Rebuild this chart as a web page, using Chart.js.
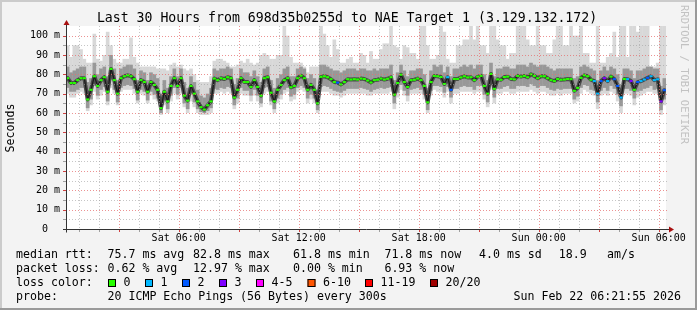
<!DOCTYPE html>
<html>
<head>
<meta charset="utf-8">
<script src="https://cdn.jsdelivr.net/npm/chart.js@4.4.1/dist/chart.umd.min.js"></script>
<style>
html,body{margin:0;padding:0;background:#f3f3f3}
canvas{display:block}
</style>
</head>
<body>
<canvas id="c" width="697" height="310"></canvas>
<script>
// time axis in minutes since Sat 00:00
var startMin = 21.9, endMin = 1821.9;
var firstSample = 26.9, sampleStep = 10;

// median rtt per 10 min sample (ms)
var median = [
  78,75.5,75.5,77,78,78,67,72,79,74,77,78.5,71,82.8,77,70,78,79,79.5,79,77.5,71,77,76,71,76,74.5,72,62.5,71,66,
  74,78,74,78,69,66.4,74,70,66,63,61.8,64,66,77.8,77,78,77.6,78.5,78,68,72,78,76,76,73.5,77,73.5,69,78,78.5,
  70.5,66,72,74.5,77,78,73.3,74,78,79.3,78,72,74.5,72,65,78.7,79,78.5,77.5,76,75.7,74.8,76,77.5,77.3,77.5,77.3,77.8,77.6,76.8,
  75.8,77,77.2,77.8,77.3,77.7,78.5,69.5,75.5,79.8,76,73.5,77,77.2,77.8,77,74,65.5,76,79.2,79,78.6,75,78.5,72,77.6,77.6,78.4,79,78.4,
  78.5,77,78.8,79.2,74,70,80.2,72.5,77.4,77.2,78.6,78.8,77.6,77.4,79.2,78.8,79.2,78.5,80,79.2,78,79,79,78,77,76.5,77.6,77.2,77.3,77.6,
  77.5,71.5,73,78.2,79.5,79,77.2,76.5,70,76.5,78,76.5,78.8,77.5,74,68,77.6,77.5,76.5,72,76,76.5,77.3,78.2,79,77,77.4,66,71.8
];
// lost pings out of 20
var loss = [
  0,0,0,0,0,0,0,0,0,0,0,0,0,0,0,0,0,0,0,0,0,0,0,0,0,0,0,0,0,0,
  0,0,0,0,0,0,0,0,0,0,0,0,0,0,0,0,0,0,0,0,0,0,0,0,0,0,0,0,0,0,
  0,0,0,0,0,0,0,0,0,0,0,0,0,0,0,0,0,0,0,0,0,2,0,0,0,0,0,0,0,0,
  0,0,0,0,0,0,0,0,0,0,0,0,0,0,0,0,0,0,0,0,0,0,0,0,1,2,0,0,0,0,
  0,0,0,0,0,0,0,0,0,0,0,0,0,0,0,0,0,0,0,0,0,0,0,0,0,0,0,0,0,0,
  0,0,0,0,0,0,0,0,1,1,2,3,1,0,2,2,1,0,1,3,0,2,1,1,2,1,1,1,3,2
];
// smoke: slowest and fastest ping
var pingMax = [
  95,89,95,95,93,88,86,86,101,88,87,90,102,95,88,86,86,88,88,99,89,86,84,84,84,84,84,83,83,83,82,
  85,86,84,85,83,82,83,80,77,76,76,76,79,87,88,88,87,86,84,84,85,87,86,88,86,85,86,90,91,90,
  88,88,90,90,106,100,89,86,86,86,84,81,84,84,84,106,101,95,89,98,93,86,86,88,89,86,86,91,90,86,
  92,88,88,93,96,96,106,95,94,88,95,94,91,91,88,106,106,95,88,88,90,106,102,88,86,86,95,95,98,98,
  106,98,106,95,95,91,106,106,98,95,95,88,91,91,106,106,106,98,95,95,106,95,95,91,91,98,106,106,95,95,
  106,100,100,106,91,91,86,86,106,86,86,89,91,102,89,106,106,89,106,106,102,106,106,106,84,84,86,106,106
];
var pingMin = [
  70,68,68,70,71,70,61,64,71,67,69,71,64,73,70,64,71,72,72,72,70,65,70,69,65,69,67,66,59,64,60,
  66,70,67,70,63,60,66,63,60,59,59,59,60,70,70,71,70,71,70,62,65,70,69,69,66,69,66,63,70,71,
  64,60,65,67,70,71,66,67,71,72,71,65,67,65,60,71,71,71,70,69,69,68,69,70,70,70,70,70,70,69,
  69,70,70,70,70,70,71,62,68,72,69,66,70,70,70,70,67,60,69,72,71,71,68,71,65,70,70,71,71,71,
  71,70,71,71,67,63,72,65,70,70,71,71,70,70,71,71,71,71,72,71,70,71,71,70,69,69,70,69,70,70,
  70,65,66,70,72,71,70,69,62,69,70,69,71,70,66,60,70,70,69,64,68,69,70,71,71,70,70,59,64
];
// smoke: inner pings
var midHi = [
  84,81,82,83,84,84,76,78,86,80,83,84,79,90,83,77,83,84,85,85,83,77,82,81,77,81,80,78,70,77,73,
  79,83,79,83,76,73,79,76,72,69,68,70,73,83,82,83,83,84,83,75,78,83,81,81,79,82,79,76,83,84,
  77,73,78,80,83,84,79,79,83,84,83,78,80,78,72,85,85,84,83,82,82,81,82,83,83,83,82,83,83,82,
  82,83,82,83,83,83,85,77,81,85,82,79,82,82,83,83,80,73,82,85,84,85,81,84,79,83,83,84,85,84,
  85,83,85,85,80,77,86,79,83,83,84,84,83,83,85,85,85,84,86,85,84,85,85,84,83,82,83,83,83,83,
  83,78,79,84,85,84,83,82,77,82,84,82,84,83,80,75,83,83,82,78,82,82,83,84,84,83,83,74,78
];
var midLo = [
  73,71,71,72,73,73,62.5,67,74,69,72,73.5,66,77,72,65.5,73,74,74.5,74,72.5,66.5,72,71,66.5,71,69.5,67.5,60,66.5,62,
  69,73,69.5,73,65,62,69.5,65.5,62,60.5,60,61,62.5,72.5,72,73,72.5,73.5,73,64,67.5,73,71.5,71.5,69,72,69,65,73,73.5,
  66,62,67.5,69.5,72,73,68.5,69.5,73,74,73,67.5,69.5,67.5,61.5,73.5,74,73.5,72.5,71.5,71,70.5,71.5,72.5,72.5,72.5,72.5,73,72.5,72,
  71,72,72.5,73,72.5,73,73.5,65,70.5,74.5,71.5,69,72,72.5,73,72,69.5,61.5,71.5,74,74,73.5,70.5,73.5,68,72.5,72.5,73.5,74,73.5,
  73.5,72,74,74,69.5,65.5,75,68,72.5,72.5,73.5,74,72.5,72.5,74,74,74,73.5,75,74,73,74,74,73,72,71.5,72.5,72,72.5,72.5,
  72.5,67,68.5,73,74.5,74,72,71.5,65.5,71.5,73,71.5,74,72.5,69.5,63.5,72.5,72.5,71.5,67.5,71,71.5,72.5,73,74,72,72.5,61.5,67
];

var yTicks = [0,10,20,30,40,50,60,70,80,90,100];
var xLabelMin = [360,720,1080,1440,1800];
var xLabelTxt = ['Sat 06:00','Sat 12:00','Sat 18:00','Sun 00:00','Sun 06:00'];
var lossLabels = ['0','1','2','3','4-5','6-10','11-19','20/20'];
var lossColors = ['#26ff00','#00b8ff','#0059ff','#7e00ff','#ff00ff','#ff5500','#ff0000','#a00000'];
var rttStats = ['75.7 ms avg','82.8 ms max','61.8 ms min','71.8 ms now','4.0 ms sd','18.9','am/s'];
var lossStats = ['0.62 % avg','12.97 % max','0.00 % min','6.93 % now'];

function lossIdx(n) {
  if (n <= 3) return n;
  if (n <= 5) return 4;
  if (n <= 10) return 5;
  if (n < 20) return 6;
  return 7;
}

var times = median.map(function (v, i) { return firstSample + i * sampleStep; });
function band(lo, hi) { return times.map(function (t, i) { return { x: t, y: [lo[i], hi[i]] }; }); }
var medPts = times.map(function (t, i) { return { x: t, y: median[i] }; });
var medBars = times.map(function (t, i) { return { x: t, y: [median[i] - 0.55, median[i] + 0.55] }; });

var MONO = '"DejaVu Sans Mono", monospace';

function ln(c, x1, y1, x2, y2) { c.beginPath(); c.moveTo(x1, y1); c.lineTo(x2, y2); c.stroke(); }

var frame = {
  id: 'frame',
  beforeDraw: function (ch) {
    var c = ch.ctx, a = ch.chartArea;
    c.save();
    c.fillStyle = '#f3f3f3';
    c.fillRect(0, 0, 697, 310);
    c.fillStyle = '#cbcbcb';
    c.fillRect(0, 0, 697, 2);
    c.fillRect(0, 0, 2, 310);
    c.fillStyle = '#9a9a9a';
    c.fillRect(0, 308, 697, 2);
    c.fillRect(695, 0, 2, 310);
    c.fillStyle = '#ffffff';
    c.fillRect(a.left, a.top, a.right - a.left, a.bottom - a.top);
    c.restore();
  },
  afterDatasetsDraw: function (ch) {
    var c = ch.ctx, a = ch.chartArea, xs = ch.scales.x, ys = ch.scales.y;
    c.save();
    c.lineWidth = 1;
    // vertical grid: hours, red every 3 hours
    for (var t = 60; t < endMin; t += 60) {
      if (t < startMin) continue;
      var px = Math.round(xs.getPixelForValue(t)) + 0.5;
      var major = t % 180 === 0;
      c.strokeStyle = major ? 'rgba(230,110,110,0.75)' : 'rgba(160,160,160,0.6)';
      c.setLineDash([1, 2]);
      ln(c, px, a.top, px, a.bottom);
      c.setLineDash([]);
      c.strokeStyle = major ? '#d04040' : '#a0a0a0';
      ln(c, px, a.bottom, px, a.bottom + 3);
    }
    // horizontal grid: 5 ms gray, 10 ms red
    for (var v = 5; v <= 100; v += 5) {
      var py = Math.round(ys.getPixelForValue(v)) + 0.5;
      var maj = v % 10 === 0;
      c.strokeStyle = maj ? 'rgba(230,110,110,0.75)' : 'rgba(160,160,160,0.6)';
      c.setLineDash([1, 2]);
      ln(c, a.left, py, a.right + 2, py);
      c.setLineDash([]);
      c.strokeStyle = maj ? '#d04040' : '#a0a0a0';
      ln(c, a.left - 3, py, a.left, py);
    }
    // axes
    c.strokeStyle = '#333';
    var y0 = Math.round(ys.getPixelForValue(0)) + 0.5;
    var x0 = a.left + 0.5;
    ln(c, a.left - 3, y0, a.right + 4, y0);
    ln(c, x0, y0 + 3, x0, a.top - 2);
    c.fillStyle = '#a81010';
    c.beginPath(); c.moveTo(a.right + 8, y0); c.lineTo(a.right + 3, y0 - 3); c.lineTo(a.right + 3, y0 + 3); c.closePath(); c.fill();
    c.beginPath(); c.moveTo(x0, a.top - 6); c.lineTo(x0 - 3, a.top - 1); c.lineTo(x0 + 3, a.top - 1); c.closePath(); c.fill();

    // y labels
    c.fillStyle = '#000';
    c.font = '10px ' + MONO;
    c.textBaseline = 'middle';
    c.textAlign = 'right';
    var cw = c.measureText('0').width;
    yTicks.forEach(function (v) {
      var py = ys.getPixelForValue(v);
      if (v === 0) c.fillText('0', 60 - 2 * cw, py);
      else c.fillText(v + ' m', 60, py);
    });
    // x labels
    c.textAlign = 'center';
    xLabelMin.forEach(function (t, i) {
      c.fillText(xLabelTxt[i], xs.getPixelForValue(t), 238);
    });
    // title
    c.font = '13.2px ' + MONO;
    c.fillText('Last 30 Hours from 698d35b0255d to NAE Target 1 (3.129.132.172)', 347, 19);
    // axis title
    c.save();
    c.font = '11.6px ' + MONO;
    c.translate(10.5, 128);
    c.rotate(-Math.PI / 2);
    c.fillText('Seconds', 0, 0);
    c.restore();
    // watermark
    c.save();
    c.font = '10.5px ' + MONO;
    c.fillStyle = '#c2c2c2';
    c.textAlign = 'left';
    c.translate(684, 5);
    c.rotate(Math.PI / 2);
    c.fillText('RRDTOOL / TOBI OETIKER', 0, 0);
    c.restore();

    // legend
    c.font = '11.6px ' + MONO;
    c.textAlign = 'left';
    c.fillStyle = '#000';
    var cols = [107.5, 193, 293, 384.4, 479, 558.7, 607];
    c.fillText('median rtt:', 16, 255);
    rttStats.forEach(function (s, i) { c.fillText(s, cols[i], 255); });
    c.fillText('packet loss:', 16, 269);
    lossStats.forEach(function (s, i) { c.fillText(s, cols[i], 269); });
    c.fillText('loss color:', 16, 283);
    var boxX = [108, 145, 182, 219, 256, 307.5, 365, 430];
    lossLabels.forEach(function (s, i) {
      c.fillStyle = lossColors[i];
      c.fillRect(boxX[i], 279, 8, 8);
      c.strokeStyle = '#000';
      c.strokeRect(boxX[i] + 0.5, 279.5, 7, 7);
      c.fillStyle = '#000';
      c.fillText(s, boxX[i] + 15.5, 283);
    });
    c.fillText('probe:', 16, 297);
    c.fillText('20 ICMP Echo Pings (56 Bytes) every 300s', 107.5, 297);
    c.textAlign = 'right';
    c.fillText('Sun Feb 22 06:21:55 2026', 681, 297);
    c.restore();
  }
};

new Chart(document.getElementById('c'), {
  type: 'bar',
  data: {
    datasets: [
      { type: 'bar', data: medBars, order: 0, grouped: false, barPercentage: 0.95, categoryPercentage: 1,
        backgroundColor: function (ctx) { return lossColors[lossIdx(loss[ctx.dataIndex] || 0)]; } },
      { type: 'line', data: medPts, order: 1, borderColor: '#1a1a1a', borderWidth: 1.2, pointRadius: 0, tension: 0,
        borderJoinStyle: 'round' },
      { type: 'line', data: medPts, order: 2, borderColor: '#4a4a4a', borderWidth: 4, pointRadius: 0, tension: 0,
        borderJoinStyle: 'round', borderCapStyle: 'round' },
      { type: 'bar', data: band(midLo, midHi), order: 3, grouped: false, barPercentage: 1.1, categoryPercentage: 1,
        backgroundColor: '#989898' },
      { type: 'bar', data: band(pingMin, pingMax), order: 4, grouped: false, barPercentage: 1.1, categoryPercentage: 1,
        backgroundColor: '#d8d8d8' }
    ]
  },
  options: {
    responsive: false,
    animation: false,
    devicePixelRatio: 1,
    layout: { padding: { left: 66, right: 31, top: 26, bottom: 81 } },
    plugins: { legend: { display: false }, tooltip: { enabled: false } },
    scales: {
      x: { type: 'linear', min: startMin, max: endMin, offset: false, display: false },
      y: { min: 0, max: 105, display: false }
    }
  },
  plugins: [frame]
});
</script>
</body>
</html>
